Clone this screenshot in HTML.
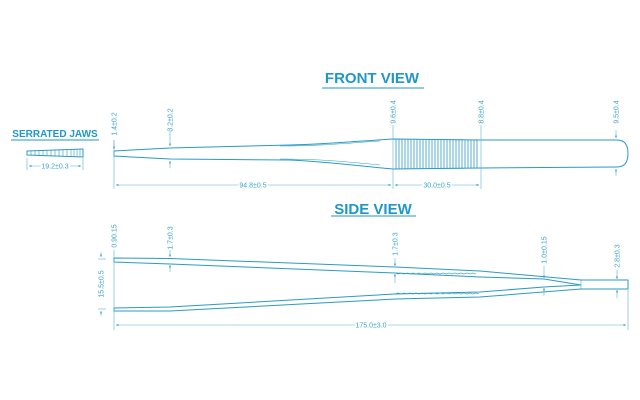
<!DOCTYPE html>
<html><head><meta charset="utf-8"><style>
html,body{margin:0;padding:0;background:#fff;width:640px;height:400px;overflow:hidden}
svg{display:block}
.t{font-family:"Liberation Sans",sans-serif;font-size:7px;fill:#3aa3cc}
.h{font-family:"Liberation Sans",sans-serif;font-weight:bold;fill:#1f97c8}
</style></head><body>
<svg width="640" height="400" viewBox="0 0 640 400" xmlns="http://www.w3.org/2000/svg">
<defs>
<marker id="a" viewBox="0 0 6 6" refX="6" refY="3" markerWidth="4" markerHeight="4" orient="auto-start-reverse"><path d="M0,0 L6,3 L0,6z" fill="#3aa3cc"/></marker>
</defs>
<g stroke="#2a9ac6" fill="none" stroke-width="1">
<path d="M114,151 L170,148 L290,145 C330,144 360,141 393,139 L481,140 L617,140 Q628,140 628,153.5 Q628,167 617,167 L481,168 L393,169 C360,166 330,162 290,160 L170,159 L114,156 Z"/>
<path d="M280,146 C320,146 350,143 380,141" stroke-width="0.6"/>
<path d="M280,159 C320,159 350,162 380,165" stroke-width="0.6"/>
<line x1="114" y1="151" x2="114" y2="156"/>
<g stroke-width="0.8">
<line x1="396" y1="139" x2="396" y2="169"/><line x1="399" y1="139" x2="399" y2="169"/><line x1="402" y1="139" x2="402" y2="169"/><line x1="405" y1="139" x2="405" y2="169"/><line x1="408" y1="139" x2="408" y2="169"/><line x1="411" y1="139" x2="411" y2="169"/><line x1="414" y1="139" x2="414" y2="169"/><line x1="417" y1="139" x2="417" y2="169"/><line x1="420" y1="139" x2="420" y2="169"/><line x1="423" y1="139" x2="423" y2="169"/><line x1="426" y1="139" x2="426" y2="169"/><line x1="429" y1="139" x2="429" y2="169"/><line x1="432" y1="139" x2="432" y2="169"/><line x1="435" y1="139" x2="435" y2="169"/><line x1="438" y1="139" x2="438" y2="169"/><line x1="441" y1="139" x2="441" y2="169"/><line x1="444" y1="139" x2="444" y2="169"/><line x1="447" y1="139" x2="447" y2="169"/><line x1="450" y1="139" x2="450" y2="169"/><line x1="453" y1="139" x2="453" y2="169"/><line x1="456" y1="139" x2="456" y2="169"/><line x1="459" y1="139" x2="459" y2="169"/><line x1="462" y1="139" x2="462" y2="169"/><line x1="465" y1="140" x2="465" y2="168"/><line x1="468" y1="140" x2="468" y2="168"/><line x1="471" y1="140" x2="471" y2="168"/><line x1="474" y1="140" x2="474" y2="168"/><line x1="477" y1="140" x2="477" y2="168"/>
</g>
<path d="M27,151 L83,149 L83,157 L27,155 Z"/>
<g stroke-width="0.6">
<line x1="31" y1="151" x2="31" y2="155"/><line x1="35" y1="151" x2="35" y2="155"/><line x1="39" y1="151" x2="39" y2="155"/><line x1="43" y1="150.5" x2="43" y2="155.5"/><line x1="47" y1="150.5" x2="47" y2="155.5"/><line x1="51" y1="150.5" x2="51" y2="155.5"/><line x1="55" y1="150" x2="55" y2="156"/><line x1="59" y1="150" x2="59" y2="156"/><line x1="63" y1="150" x2="63" y2="156"/><line x1="67" y1="149.5" x2="67" y2="156.5"/><line x1="71" y1="149.5" x2="71" y2="156.5"/><line x1="74" y1="149.5" x2="74" y2="156.5"/><line x1="77" y1="149" x2="77" y2="157"/><line x1="80" y1="149" x2="80" y2="157"/>
</g>
<path d="M114,258 L170,258.5 L395,267 L480,271 L581,280 L628,280 L628,289 L581,289 L480,297 L395,299 L170,311 L114,311 L114,308 L170,307 L395,294 L480,292 L544,287 L581,285 L544,279 L480,277 L395,273 L170,264 L114,262 Z"/>
<line x1="581" y1="280" x2="581" y2="289" stroke-width="0.5"/>
<path d="M395,273 l3,1 l3,-1 l3,1 l3,-1 l3,1 l3,-1 l3,1 l3,-1 l3,1 l3,-1 l3,1 l3,-1 l3,1 l3,-1 l3,1 l3,-1 l3,1 l3,-1 l3,1 l3,-1 l3,1 l3,-1 l3,1 l3,-1 l3,1 l3,-1 l3,1" stroke-width="0.6"/>
<path d="M395,294 l3,-1 l3,1 l3,-1 l3,1 l3,-1 l3,1 l3,-1 l3,1 l3,-1 l3,1 l3,-1 l3,1 l3,-1 l3,1 l3,-1 l3,1 l3,-1 l3,1 l3,-1 l3,1 l3,-1 l3,1 l3,-1 l3,1 l3,-1 l3,1 l3,-1 l3,1" stroke-width="0.6"/>
</g>
<g stroke="#5ab3d6" stroke-width="0.6" fill="none">
<line x1="114" y1="140" x2="114" y2="189"/>
<line x1="393" y1="125" x2="393" y2="189"/>
<line x1="481" y1="125" x2="481" y2="189"/>
<line x1="116" y1="185" x2="391" y2="185" marker-start="url(#a)" marker-end="url(#a)"/>
<line x1="395" y1="185" x2="479" y2="185" marker-start="url(#a)" marker-end="url(#a)"/>
<line x1="114" y1="140" x2="114" y2="149" marker-end="url(#a)"/>
<line x1="170" y1="130" x2="170" y2="146" marker-end="url(#a)"/>
<line x1="170" y1="168" x2="170" y2="161" marker-end="url(#a)"/>
<line x1="616" y1="130" x2="616" y2="138" marker-end="url(#a)"/>
<line x1="616" y1="176" x2="616" y2="169" marker-end="url(#a)"/>
<line x1="27" y1="158" x2="27" y2="170"/><line x1="83" y1="158" x2="83" y2="170"/>
<line x1="29" y1="166" x2="81" y2="166" marker-start="url(#a)" marker-end="url(#a)"/>
<line x1="114" y1="250" x2="114" y2="330"/>
<line x1="628" y1="290" x2="628" y2="330"/>
<line x1="116" y1="325" x2="626" y2="325" marker-start="url(#a)" marker-end="url(#a)"/>
<line x1="98" y1="259" x2="106" y2="259"/><line x1="98" y1="309" x2="106" y2="309"/>
<line x1="101" y1="252" x2="101" y2="257" marker-end="url(#a)"/>
<line x1="101" y1="316" x2="101" y2="311" marker-end="url(#a)"/>
<line x1="170" y1="250" x2="170" y2="257" marker-end="url(#a)"/>
<line x1="170" y1="272" x2="170" y2="265" marker-end="url(#a)"/>
<line x1="395" y1="258" x2="395" y2="266" marker-end="url(#a)"/>
<line x1="395" y1="283" x2="395" y2="274" marker-end="url(#a)"/>
<line x1="544" y1="266" x2="544" y2="278" marker-end="url(#a)"/>
<line x1="544" y1="296" x2="544" y2="288" marker-end="url(#a)"/>
<line x1="617" y1="270" x2="617" y2="279" marker-end="url(#a)"/>
<line x1="617" y1="298" x2="617" y2="290" marker-end="url(#a)"/>
</g>
<text class="h" x="372" y="83" font-size="15" text-anchor="middle">FRONT VIEW</text>
<line x1="322" y1="88" x2="424" y2="88" stroke="#1f97c8" stroke-width="1"/>
<text class="h" x="373" y="214" font-size="15" text-anchor="middle">SIDE VIEW</text>
<line x1="331" y1="216" x2="416" y2="216" stroke="#1f97c8" stroke-width="1"/>
<text class="h" x="55" y="137" font-size="10" text-anchor="middle">SERRATED JAWS</text>
<line x1="11" y1="140" x2="99" y2="140" stroke="#1f97c8" stroke-width="1"/>
<text class="t" x="55" y="168.5" text-anchor="middle" style="paint-order:stroke" stroke="#fff" stroke-width="3">19.2±0.3</text>
<text class="t" x="253" y="187.5" text-anchor="middle" stroke="#fff" stroke-width="3" style="paint-order:stroke">94.8±0.5</text>
<text class="t" x="437" y="187.5" text-anchor="middle" stroke="#fff" stroke-width="3" style="paint-order:stroke">30.0±0.5</text>
<text class="t" x="371" y="327.5" text-anchor="middle" stroke="#fff" stroke-width="3" style="paint-order:stroke">175.0±3.0</text>
<text class="t" transform="translate(116.5,124) rotate(-90)" text-anchor="middle">1.4±0.2</text>
<text class="t" transform="translate(172.5,120) rotate(-90)" text-anchor="middle">3.2±0.2</text>
<text class="t" transform="translate(395.5,112) rotate(-90)" text-anchor="middle">9.6±0.4</text>
<text class="t" transform="translate(483.5,112) rotate(-90)" text-anchor="middle">8.8±0.4</text>
<text class="t" transform="translate(618.5,112) rotate(-90)" text-anchor="middle">9.5±0.4</text>
<text class="t" transform="translate(116.5,236) rotate(-90)" text-anchor="middle">0.90.15</text>
<text class="t" transform="translate(172.5,238) rotate(-90)" text-anchor="middle">1.7±0.3</text>
<text class="t" transform="translate(397.5,244) rotate(-90)" text-anchor="middle">1.7±0.3</text>
<text class="t" transform="translate(546.5,250) rotate(-90)" text-anchor="middle">1.0±0.15</text>
<text class="t" transform="translate(619.5,256) rotate(-90)" text-anchor="middle">2.8±0.3</text>
<text class="t" transform="translate(103.5,284) rotate(-90)" text-anchor="middle">15.5±0.5</text>
</svg>
</body></html>
